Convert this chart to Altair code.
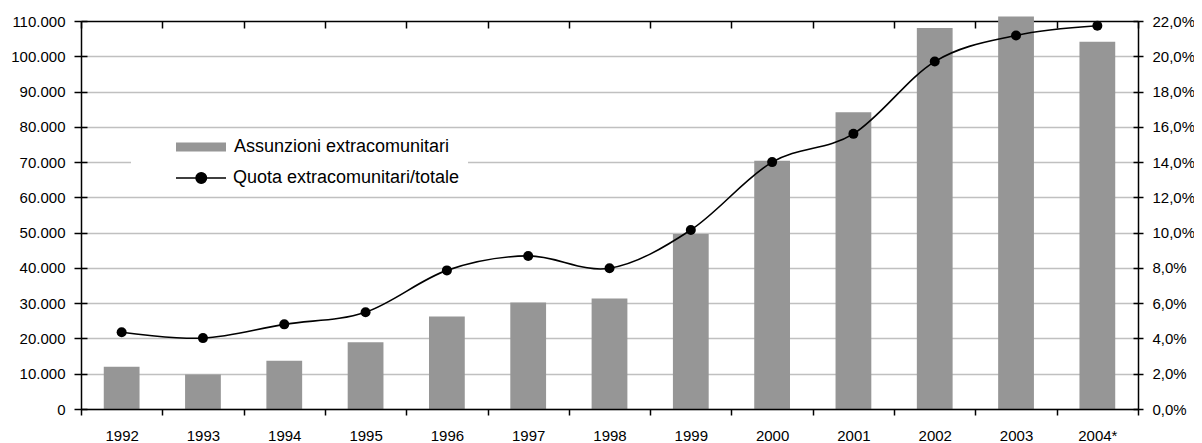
import altair as alt
import pandas as pd

# ---- data ----
years = ["1992", "1993", "1994", "1995", "1996", "1997", "1998",
         "1999", "2000", "2001", "2002", "2003", "2004*"]
assunzioni = [12000, 9800, 13700, 18900, 26200, 30200, 31300,
              49600, 70400, 84100, 108000, 111300, 104100]
quota = [0.0435, 0.0402, 0.0480, 0.0549, 0.0786, 0.0868, 0.0798,
         0.1015, 0.1400, 0.1560, 0.1970, 0.2118, 0.2173]
bar_label = "Assunzioni extracomunitari"
line_label = "Quota extracomunitari/totale"
left_ticks = [i * 10000 for i in range(12)]
right_ticks = [round(i * 0.02, 2) for i in range(12)]

df = pd.DataFrame({
    "anno": years,
    "assunzioni": assunzioni,
    "quota": quota,
    "s1": bar_label,
    "s2": line_label,
})

FONT = "Liberation Sans, Arial, sans-serif"
FS = 15
LEG_FS = 18

x_scale = alt.Scale(paddingInner=0, paddingOuter=0)

x_main = alt.X(
    "anno:N", sort=years, scale=x_scale,
    axis=alt.Axis(title=None, labelAngle=0, tickBand="extent", labelFont=FONT,
                  labelFontSize=FS, labelColor="black", labelPadding=13,
                  tickSize=6, tickColor="black", tickWidth=1.5,
                  domainColor="black", domainWidth=1.5, grid=False, zindex=1),
)
x_inner = alt.X(
    "anno:N", sort=years, scale=x_scale,
    axis=alt.Axis(title=None, labels=False, tickBand="extent", offset=-7,
                  tickSize=7, tickColor="black", tickWidth=1.5,
                  domain=False, grid=False, zindex=1),
)
x_none = alt.X("anno:N", sort=years, scale=x_scale, axis=None)

# grid axis (behind the marks)
left_axis = alt.Axis(
    title=None, orient="left", values=left_ticks, format=",.0f",
    labelFont=FONT, labelFontSize=FS, labelColor="black", labelPadding=9,
    tickSize=7, tickColor="black", tickWidth=1.5,
    domainColor="black", domainWidth=1.5,
    grid=True, gridWidth=1.5,
    gridColor={"condition": {"test": "datum.value === 110000", "value": "black"},
               "value": "#c0c0c0"},
    zindex=0,
)
left_inner = alt.Axis(
    title=None, orient="left", values=left_ticks, labels=False, offset=-6,
    tickSize=6, tickColor="black", tickWidth=1.5, domain=False, grid=False, zindex=1,
)

right_axis = alt.Axis(
    title=None, orient="right", values=right_ticks, format=".1%",
    labelFont=FONT, labelFontSize=FS, labelColor="black", labelPadding=9,
    tickSize=5, tickColor="black", tickWidth=1.5,
    domainColor="black", domainWidth=1.5, grid=False, zindex=1,
)
right_inner = alt.Axis(
    title=None, orient="right", values=right_ticks, labels=False, offset=-5,
    tickSize=5, tickColor="black", tickWidth=1.5, domain=False, grid=False, zindex=1,
)

y_left_scale = alt.Scale(domain=[0, 110000], nice=False)
y_right_scale = alt.Scale(domain=[0, 0.22], nice=False)

rect_path = "M-1,-0.9H9V0.9H-1Z"
line_path = "M-1,0H9M3,0A1.05,1.05,0,1,0,5.1,0A1.05,1.05,0,1,0,3,0Z"

NBSP = "\u00a0"

bars = alt.Chart(df).mark_bar(width=alt.RelativeBandSize(0.44)).encode(
    x=x_main,
    y=alt.Y("assunzioni:Q", scale=y_left_scale, axis=left_axis),
    color=alt.Color("s1:N", scale=alt.Scale(range=["#969696"]),
                    legend=alt.Legend(title=NBSP, titleOrient="left", titleFontSize=4,
                                      titlePadding=32,
                                      orient="none", legendX=50, legendY=108,
                                      symbolType=rect_path, symbolSize=100,
                                      symbolStrokeWidth=0, labelOffset=44,
                                      labelFont=FONT, labelFontSize=LEG_FS,
                                      labelColor="black", fillColor="white",
                                      labelExpr="datum.label + '" + NBSP * 10 + "'",
                                      padding=9, labelLimit=600, zindex=2)),
)

line = alt.Chart(df).mark_line(color="black", strokeWidth=1.6,
                               interpolate="cardinal").encode(
    x=x_inner, y=alt.Y("quota:Q", scale=y_right_scale, axis=right_axis))

points = alt.Chart(df).mark_point(filled=True, size=100, opacity=1).encode(
    x=x_inner,
    y=alt.Y("quota:Q", scale=y_right_scale, axis=right_axis),
    color=alt.Color("s2:N", scale=alt.Scale(range=["black"]),
                    legend=alt.Legend(title=NBSP, titleOrient="left", titleFontSize=4,
                                      titlePadding=32,
                                      orient="none", legendX=51, legendY=140,
                                      symbolType=line_path, symbolSize=100,
                                      symbolStrokeColor="black", symbolStrokeWidth=1.5,
                                      labelOffset=43,
                                      labelFont=FONT, labelFontSize=LEG_FS,
                                      labelColor="black", fillColor="white",
                                      labelExpr="datum.label + '" + NBSP * 5 + "'",
                                      padding=8, labelLimit=600, zindex=2)),
)

ghost_left = alt.Chart(df).mark_point(opacity=0).encode(
    x=x_none, y=alt.Y("assunzioni:Q", scale=y_left_scale, axis=left_inner))
ghost_right = alt.Chart(df).mark_point(opacity=0).encode(
    x=x_none, y=alt.Y("quota:Q", scale=y_right_scale, axis=right_inner))

chart = alt.layer(bars, alt.layer(line, points), ghost_left, ghost_right).resolve_scale(
    y="independent", color="independent"
).resolve_axis(x="independent").properties(
    width=1057, height=388,
    autosize=alt.AutoSizeParams(type="none"),
    padding={"left": 73, "top": 13, "right": 56, "bottom": 35},
).configure(
    locale={"number": {"decimal": ",", "thousands": ".", "grouping": [3],
                       "currency": ["", " €"]}},
).configure_view(stroke=None)

chart.save("out.html", embed_options={"renderer": "svg", "actions": False})
